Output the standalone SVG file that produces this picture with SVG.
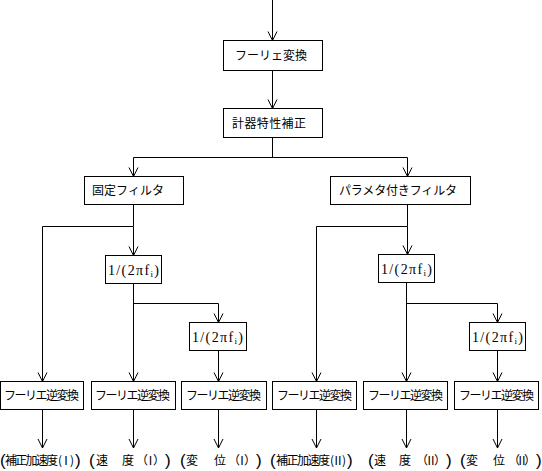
<svg xmlns="http://www.w3.org/2000/svg" width="542" height="471" viewBox="0 0 542 471">
<style>
.b{fill:#fff;stroke:#000;stroke-width:1}
.t{font-family:"Noto Sans CJK JP","Liberation Sans",sans-serif;font-size:12px;fill:#000}
.m{font-family:"Liberation Serif",serif;font-size:14px;fill:#000}
.br{font-family:"Liberation Sans",sans-serif;font-size:17px;fill:#000}
.c{fill:none;stroke:#000;stroke-width:1}
</style>
<defs>
<marker id="a" markerUnits="userSpaceOnUse" orient="auto" overflow="visible" markerWidth="10" markerHeight="10" refX="0" refY="0">
<path d="M-9,-4.5 L0,0 L-9,4.5" fill="none" stroke="#000" stroke-width="1"/>
</marker>
</defs>
<rect width="542" height="471" fill="#fff"/>
<g id="connectors" class="c">
<path d="M272.5,0 V40.5" marker-end="url(#a)"/>
<path d="M272.5,71 V108.5" marker-end="url(#a)"/>
<path d="M272.5,138 V157.5"/>
<path d="M133.5,157.5 H407.5"/>
<path d="M133.5,157.5 V176.5" marker-end="url(#a)"/>
<path d="M407.5,157.5 V176.5" marker-end="url(#a)"/>
<path d="M133.5,205 V226.5"/>
<path d="M42.5,226.5 H133.5"/>
<path d="M42.5,226.5 V381.5" marker-end="url(#a)"/>
<path d="M133.5,226.5 V255.5" marker-end="url(#a)"/>
<path d="M133.5,284 V381.5" marker-end="url(#a)"/>
<path d="M133.5,303.5 H218.5 V322.5" marker-end="url(#a)"/>
<path d="M218.5,351 V381.5" marker-end="url(#a)"/>
<path d="M407.5,205 V226.5"/>
<path d="M316.5,226.5 H407.5"/>
<path d="M316.5,226.5 V381.5" marker-end="url(#a)"/>
<path d="M407.5,226.5 V254.5" marker-end="url(#a)"/>
<path d="M406.5,283 V381.5" marker-end="url(#a)"/>
<path d="M406.5,303.5 H497.5 V322.5" marker-end="url(#a)"/>
<path d="M497.5,351 V381.5" marker-end="url(#a)"/>
<path d="M42.5,410 V448" marker-end="url(#a)"/>
<path d="M133.5,410 V448" marker-end="url(#a)"/>
<path d="M218.5,410 V448" marker-end="url(#a)"/>
<path d="M316.5,410 V448" marker-end="url(#a)"/>
<path d="M406.5,410 V448" marker-end="url(#a)"/>
<path d="M497.5,410 V448" marker-end="url(#a)"/>
</g>
<g id="fft">
<rect class="b" x="223.5" y="40.5" width="99" height="30"/>
<text class="t" x="235" y="60" textLength="72">フーリェ変換</text>
</g>
<g id="calib">
<rect class="b" x="223.5" y="108.5" width="99" height="29"/>
<text class="t" x="232" y="128" textLength="74">計器特性補正</text>
</g>
<g id="fixed">
<rect class="b" x="84.5" y="176.5" width="99" height="28"/>
<text class="t" x="92" y="195" textLength="72">固定フィルタ</text>
</g>
<g id="param">
<rect class="b" x="330.5" y="176.5" width="140" height="28"/>
<text class="t" x="339" y="195" textLength="118">パラメタ付きフィルタ</text>
</g>
<g id="intA">
<rect class="b" x="105.5" y="255.5" width="56" height="28"/>
<text class="m" x="108" y="275" textLength="51">1/(2πf<tspan font-size="9" dy="2">i</tspan><tspan dy="-2">)</tspan></text>
</g>
<g id="intB">
<rect class="b" x="189.5" y="322.5" width="57" height="28"/>
<text class="m" x="192" y="342" textLength="51">1/(2πf<tspan font-size="9" dy="2">i</tspan><tspan dy="-2">)</tspan></text>
</g>
<g id="intC">
<rect class="b" x="378.5" y="254.5" width="56" height="28"/>
<text class="m" x="381" y="274" textLength="51">1/(2πf<tspan font-size="9" dy="2">i</tspan><tspan dy="-2">)</tspan></text>
</g>
<g id="intD">
<rect class="b" x="469.5" y="322.5" width="56" height="28"/>
<text class="m" x="472" y="342" textLength="51">1/(2πf<tspan font-size="9" dy="2">i</tspan><tspan dy="-2">)</tspan></text>
</g>
<g id="ifft1">
<rect class="b" x="0.5" y="381.5" width="83" height="28"/>
<text class="t" x="4" y="400" textLength="75">フーリエ逆変換</text>
</g>
<g id="ifft2">
<rect class="b" x="91.5" y="381.5" width="84" height="28"/>
<text class="t" x="95" y="400" textLength="75">フーリエ逆変換</text>
</g>
<g id="ifft3">
<rect class="b" x="181.5" y="381.5" width="85" height="28"/>
<text class="t" x="186" y="400" textLength="75">フーリエ逆変換</text>
</g>
<g id="ifft4">
<rect class="b" x="272.5" y="381.5" width="84" height="28"/>
<text class="t" x="277" y="400" textLength="75">フーリエ逆変換</text>
</g>
<g id="ifft5">
<rect class="b" x="363.5" y="381.5" width="84" height="28"/>
<text class="t" x="368" y="400" textLength="75">フーリエ逆変換</text>
</g>
<g id="ifft6">
<rect class="b" x="454.5" y="381.5" width="84" height="28"/>
<text class="t" x="459" y="400" textLength="75">フーリエ逆変換</text>
</g>
<g id="out1">
<text class="br" x="0" y="466">(</text>
<text class="t" x="5" y="465" textLength="53">補正加速度</text>
<text class="t" x="58" y="465" textLength="16">(Ⅰ)</text>
<text class="br" x="75" y="466">)</text>
</g>
<g id="out2">
<text class="br" x="89" y="466">(</text>
<text class="t" x="96" y="465">速</text>
<text class="t" x="122" y="465">度</text>
<text class="t" x="136" y="465" textLength="29">（Ⅰ）</text>
<text class="br" x="165" y="466">)</text>
</g>
<g id="out3">
<text class="br" x="180" y="466">(</text>
<text class="t" x="186" y="465">変</text>
<text class="t" x="214" y="465">位</text>
<text class="t" x="228" y="465" textLength="28">（Ⅰ）</text>
<text class="br" x="256" y="466">)</text>
</g>
<g id="out4">
<text class="br" x="270" y="466">(</text>
<text class="t" x="276" y="465" textLength="54">補正加速度</text>
<text class="t" x="330" y="465" textLength="16">(Ⅱ)</text>
<text class="br" x="347" y="466">)</text>
</g>
<g id="out5">
<text class="br" x="368" y="466">(</text>
<text class="t" x="374" y="465">速</text>
<text class="t" x="399" y="465">度</text>
<text class="t" x="416" y="465" textLength="30">（Ⅱ）</text>
<text class="br" x="446" y="466">)</text>
</g>
<g id="out6">
<text class="br" x="460" y="466">(</text>
<text class="t" x="466" y="465">変</text>
<text class="t" x="493" y="465">位</text>
<text class="t" x="508" y="465" textLength="28">（Ⅱ）</text>
<text class="br" x="536" y="466">)</text>
</g>
</svg>
